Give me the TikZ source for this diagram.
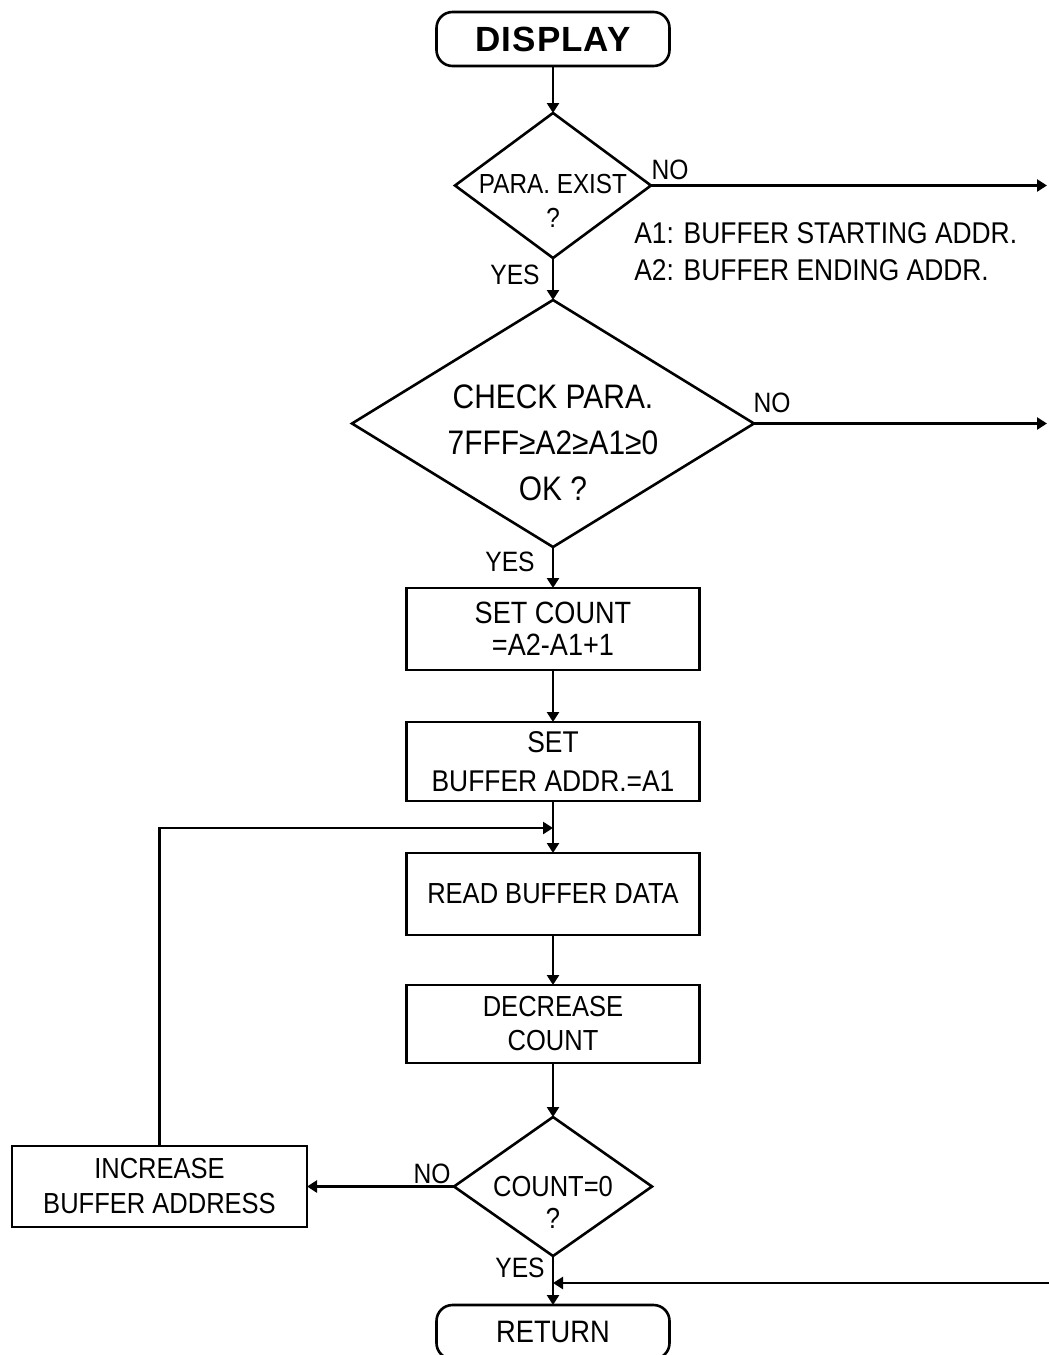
\documentclass[tikz,border=0pt]{standalone}
\usepackage{fontspec}
\setmainfont{Liberation Sans}[FakeStretch=0.88]
\newfontfamily\headfont{Liberation Sans}[LetterSpace=3]
\usetikzlibrary{shapes.geometric,arrows.meta}

\begin{document}
\begin{tikzpicture}[x=0.5pt,y=-0.5pt,
  line width=1.3pt,
  arr/.style={-{Triangle[length=5pt,width=6pt]}},
  term/.style={draw, rounded corners=8pt, minimum width=116.5pt, minimum height=27pt, inner sep=0pt, outer sep=0pt},
  procbox/.style={draw, minimum width=146.5pt, inner sep=0pt, outer sep=0pt, align=center},
  dec/.style={draw, diamond, inner sep=0pt, outer sep=0pt},
  txt/.style={inner sep=0pt, align=center},
  lbl/.style={inner sep=0pt, font=\fontsize{14}{16}\selectfont}]

\useasboundingbox (0,0) rectangle (1049,1355);
\clip (0,0) rectangle (1049,1355);

% terminals
\node[term, font=\headfont\bfseries\fontsize{17.5}{20}\selectfont] (disp) at (553,39) {DISPLAY};
\node[term, font=\fontsize{15.5}{18}\selectfont] (ret) at (553,1332) {RETURN};

% decisions (shape) and their texts
\node[dec, minimum width=98pt, minimum height=72.5pt] (d1) at (553,185.5) {};
\node[txt, font=\fontsize{13.8}{17}\selectfont] at (553,201) {PARA. EXIST\\?};

\node[dec, minimum width=201pt, minimum height=123.5pt] (d2) at (553,423.5) {};
\node[txt, font=\fontsize{17}{23}\selectfont] at (553,443) {CHECK PARA.\\7FFF≥A2≥A1≥0\\OK ?};

\node[dec, minimum width=99pt, minimum height=69.5pt] (d3) at (553,1186.5) {};
\node[txt, font=\fontsize{14.5}{16}\selectfont] at (553,1202) {COUNT=0\\?};

% process boxes
\node[procbox, minimum height=41pt, font=\fontsize{15.4}{16}\selectfont] (b1) at (553,629) {SET COUNT\\=A2-A1+1};
\node[procbox, minimum height=39.5pt, font=\fontsize{15}{19.5}\selectfont] (b2) at (553,761.5) {SET\\BUFFER ADDR.=A1};
\node[procbox, minimum height=41pt, font=\fontsize{14.5}{17}\selectfont] (b3) at (553,894) {READ BUFFER DATA};
\node[procbox, minimum height=39pt, font=\fontsize{14.5}{17}\selectfont] (b4) at (553,1024) {DECREASE\\COUNT};
\node[procbox, minimum width=147.5pt, minimum height=40.5pt, font=\fontsize{14.5}{17.5}\selectfont] (b5) at (159.5,1186.5) {INCREASE\\BUFFER ADDRESS};

% parameter notes
\node[inner sep=0pt, anchor=west, font=\fontsize{15}{18}\selectfont] (n1) at (633,233) {A1: BUFFER STARTING ADDR.};
\node[inner sep=0pt, anchor=west, font=\fontsize{15}{18}\selectfont] (n2) at (633,270) {A2: BUFFER ENDING ADDR.};

% branch labels
\node[lbl] (no1) at (670,170) {NO};
\node[lbl] (yes1) at (515,275) {YES};
\node[lbl] (no2) at (772,403) {NO};
\node[lbl] (yes2) at (510,562) {YES};
\node[lbl] (no3) at (432,1174) {NO};
\node[lbl] (yes3) at (520,1268) {YES};

% junctions and off-page ends
\coordinate (e1) at (1047,185.5);
\coordinate (e2) at (1047,423.5);
\coordinate (e3) at (1049,1283);
\coordinate (j1) at (553,828);
\coordinate (j2) at (553,1283);

% connectors
\draw[arr] (disp.south) -- (d1.north);
\draw[arr] (d1.south) -- (d2.north);
\draw[arr] (d1.east) -- (e1);
\draw[arr] (d2.east) -- (e2);
\draw[arr] (d2.south) -- (b1.north);
\draw[arr] (b1.south) -- (b2.north);
\draw[arr] (b2.south) -- (b3.north);
\draw[arr] (b3.south) -- (b4.north);
\draw[arr] (b4.south) -- (d3.north);
\draw[arr] (d3.west) -- (b5.east);
\draw[arr] (b5.north) |- (j1);
\draw[arr] (d3.south) -- (ret.north);
\draw[arr] (e3) -- (j2);
\end{tikzpicture}
\end{document}
